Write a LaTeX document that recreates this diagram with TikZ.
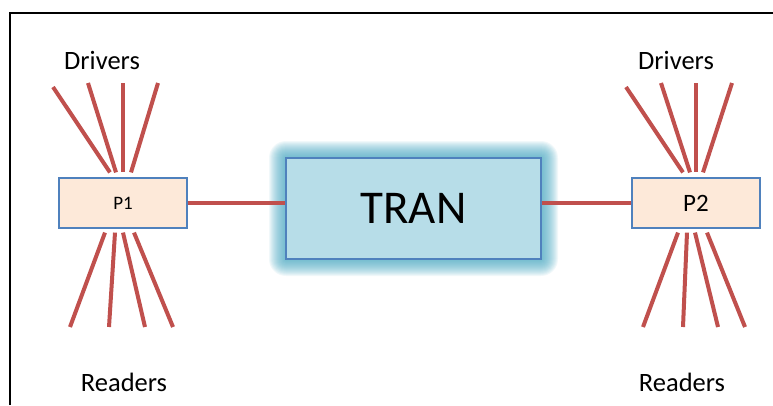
\documentclass[tikz,border=0pt]{standalone}
\usepackage{fontspec}
\setmainfont{Carlito}
\usetikzlibrary{calc}
\definecolor{wirered}{HTML}{C0504D}
\definecolor{boxblue}{HTML}{4F81BD}
\definecolor{portfill}{HTML}{FDE9D9}
\definecolor{tranfill}{HTML}{B7DDE8}
\definecolor{glowcyan}{HTML}{4BACC6}
\tikzset{
  wire/.style={draw=wirered, line width=4pt},
  portbox/.style={draw=boxblue, fill=portfill, line width=1.2pt,
    minimum width=128pt, minimum height=50pt, inner sep=0pt},
  tranbox/.style={draw=boxblue, fill=tranfill, line width=1.2pt,
    minimum width=255pt, minimum height=101pt, inner sep=0pt,
    font=\fontsize{47}{50}\selectfont},
  grouptext/.style={inner sep=0pt, font=\fontsize{26.5}{29}\selectfont},
}
\begin{document}
\begin{tikzpicture}[x=1pt, y=-1pt]
  \useasboundingbox (0,0) rectangle (773,405);
  \fill[white] (0,0) rectangle (773,405);
  % outer frame (runs off the right and bottom edges)
  \draw[line width=1.8pt, black] (10,405) -- (10,13) -- (773,13);

  % central transfer block with its soft glow
  \coordinate (tc) at (413.5,208.5);
  \foreach \i in {1,...,17} {
    \fill[glowcyan, opacity=0.075, rounded corners=\i pt]
      ($(tc)+(-127.5-\i,-50.5-\i)$) rectangle ($(tc)+(127.5+\i,50.5+\i)$);
  }
  \node[tranbox] (tran) at (tc) {TRAN};

  % ports
  \node[portbox, font=\fontsize{19}{22}\selectfont] (p1) at (123,203) {P1};
  \node[portbox, font=\fontsize{25}{28}\selectfont] (p2) at (696,203) {P2};

  % links between ports and transfer block
  \draw[wire] (p1.east) -- (tran.west |- p1.east);
  \draw[wire] (tran.east |- p2.west) -- (p2.west);

  % free ends of the driver and reader wires
  \coordinate (ld1) at (53,87);  \coordinate (ld2) at (88,83);
  \coordinate (ld3) at (123,83); \coordinate (ld4) at (158,83);
  \coordinate (lr1) at (70,327);  \coordinate (lr2) at (109,327);
  \coordinate (lr3) at (145,327); \coordinate (lr4) at (173,327);
  \coordinate (rd1) at (626,87);  \coordinate (rd2) at (661,83);
  \coordinate (rd3) at (696,83);  \coordinate (rd4) at (732,83);
  \coordinate (rr1) at (643,327); \coordinate (rr2) at (683,327);
  \coordinate (rr3) at (718,327); \coordinate (rr4) at (745,327);

  % drivers into P1 / P2
  \foreach \c/\dx in {ld1/-13, ld2/-7, ld3/0, ld4/8}
    \draw[wire] (\c) -- ($(p1.north)+(\dx,-5)$);
  \foreach \c/\dx in {rd1/-13, rd2/-6, rd3/0, rd4/7}
    \draw[wire] (\c) -- ($(p2.north)+(\dx,-5)$);
  % readers out of P1 / P2
  \foreach \c/\dx in {lr1/-18, lr2/-8, lr3/0, lr4/11}
    \draw[wire] ($(p1.south)+(\dx,4)$) -- (\c);
  \foreach \c/\dx in {rr1/-18, rr2/-9, rr3/-1, rr4/11}
    \draw[wire] ($(p2.south)+(\dx,4)$) -- (\c);

  % group labels
  \node[grouptext] (ldrv) at (102,60) {Drivers};
  \node[grouptext] (rdrv) at (676,60) {Drivers};
  \node[grouptext] (lrdr) at (124,382) {Readers};
  \node[grouptext] (rrdr) at (682,382) {Readers};
\end{tikzpicture}
\end{document}
